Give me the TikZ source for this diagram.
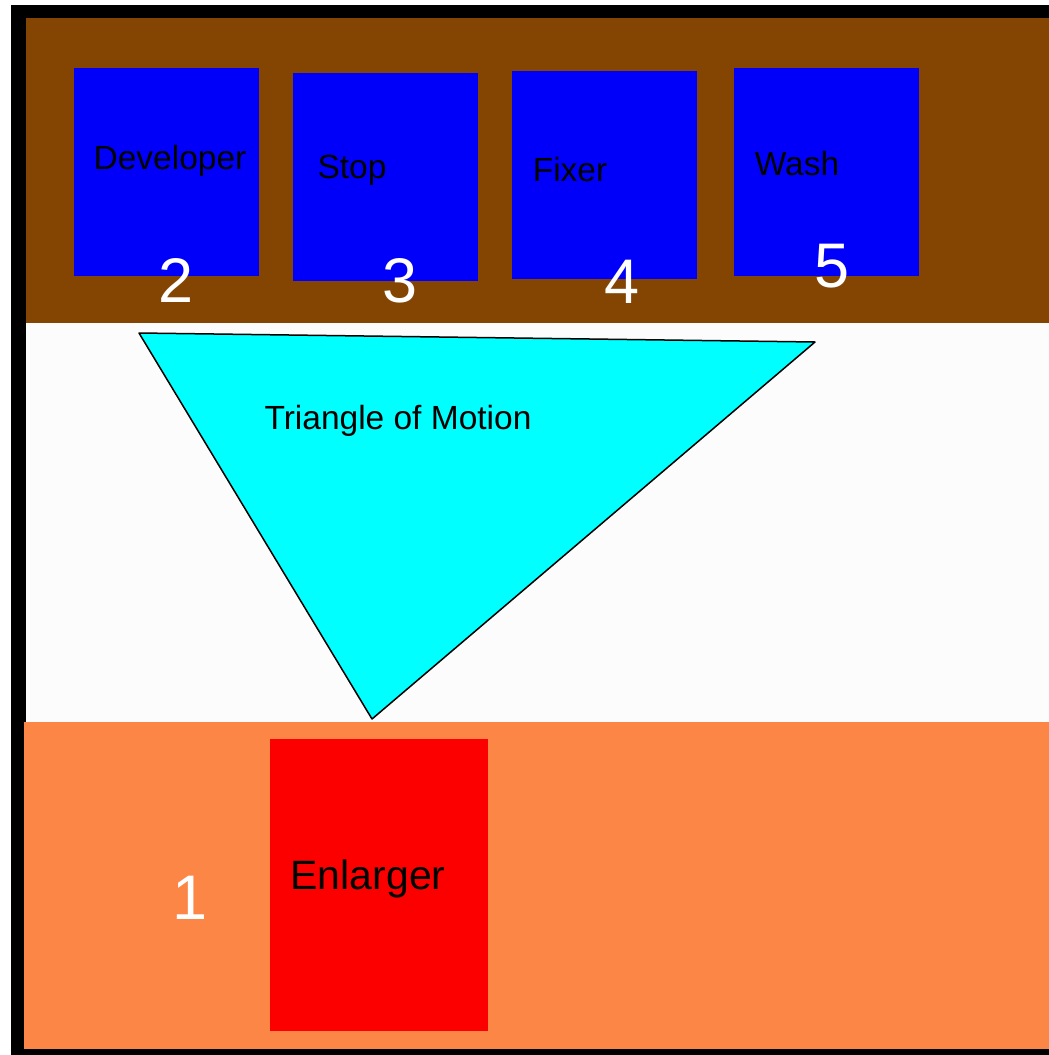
\documentclass[tikz,border=0pt]{standalone}
\usepackage{fontspec}
\setmainfont{Liberation Sans}
\usepackage{tikz}
\usepackage{xcolor}
\usetikzlibrary{positioning}
\definecolor{drbrown}{RGB}{132,69,3}
\definecolor{drblue}{RGB}{0,0,250}
\definecolor{drorange}{RGB}{252,134,69}
\definecolor{drred}{RGB}{252,0,0}
\definecolor{drcyan}{RGB}{0,255,255}
\definecolor{drwhite}{RGB}{252,252,252}
\tikzset{
  drtray/.style={fill=drblue, inner sep=0pt, minimum width=185pt, minimum height=208pt},
  drlab/.style={font=\fontsize{33.5}{40}\selectfont, text=black, anchor=base, inner sep=0pt},
  drnum/.style={font=\fontsize{63}{70}\selectfont, text=white, anchor=base, inner sep=0pt}
}

\begin{document}
\begin{tikzpicture}[x=1pt, y={(0pt,-1pt)}]
  \useasboundingbox[fill=white] (0,0) rectangle (1049,1055);
  % walls and benches
  \fill[black] (11,5) rectangle (1049,1055);
  \fill[drbrown] (26,18) rectangle (1049,323);
  \fill[drwhite] (26,323) rectangle (1049,722);
  \fill[drorange] (24,722) rectangle (1049,1049);
  % wet side
  \node[drtray] (dev) at (166.5,172) {};
  \node[drtray] (stop) at (385.5,177) {};
  \node[drtray] (fix) at (604.5,175) {};
  \node[drtray] (wash) at (826.5,172) {};
  \node[drlab] (devlab) at (170,169) {Developer};
  \node[drlab] (stoplab) at (352,178) {Stop};
  \node[drlab] (fixlab) at (570,181) {Fixer};
  \node[drlab] (washlab) at (797,175) {Wash};
  \node[drnum] (n2) at (176,302) {2};
  \node[drnum] (n3) at (400,302) {3};
  \node[drnum] (n4) at (622,303) {4};
  \node[drnum] (n5) at (832,287) {5};
  % path between stations
  \coordinate (tl) at (139,333);
  \coordinate (tr) at (815,342);
  \coordinate (tb) at (372,719);
  \filldraw[fill=drcyan, draw=black, line width=1.5pt, line join=round] (tl) -- (tr) -- (tb) -- cycle;
  \node[drlab] (tri) at (398,429) {Triangle of Motion};
  % dry side
  \node[fill=drred, inner sep=0pt, minimum width=218pt, minimum height=292pt] (enl) at (379,885) {};
  \node[drlab, font=\fontsize{41}{48}\selectfont] (enllab) at (368,889) {Enlarger};
  \node[drnum] (n1) at (190,919) {1};
\end{tikzpicture}
\end{document}
